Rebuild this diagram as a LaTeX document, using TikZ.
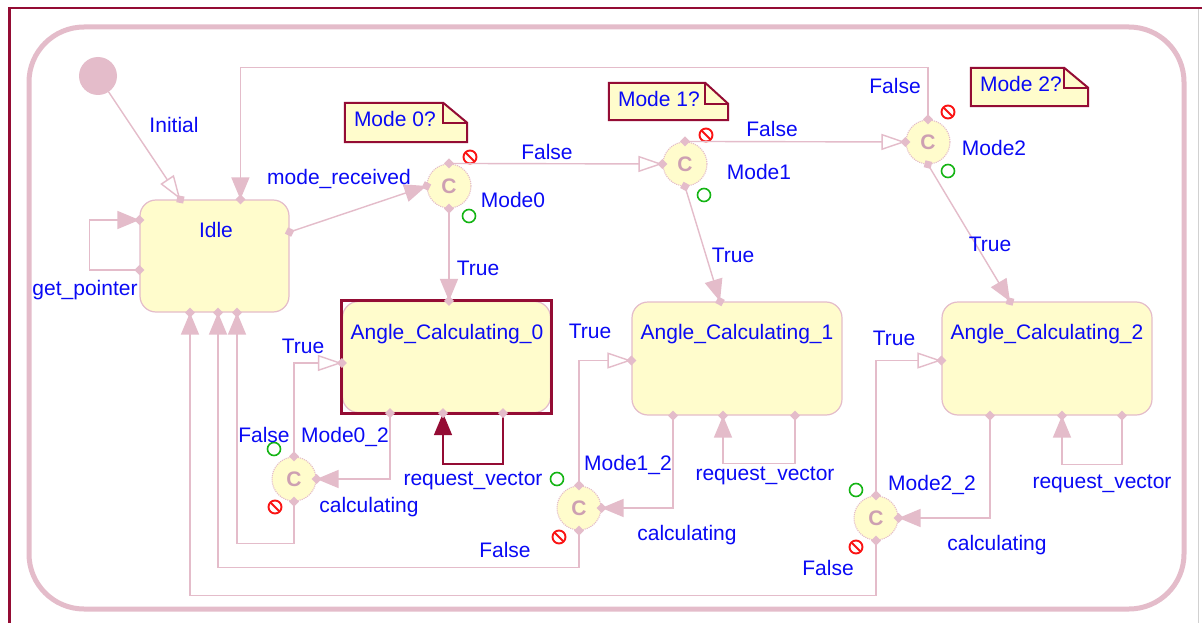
\documentclass[tikz,border=0pt]{standalone}
\usepackage{fontspec}
\setmainfont{Liberation Sans}
\usetikzlibrary{arrows.meta,decorations.markings}

\definecolor{lnk}{RGB}{228,188,202}
\definecolor{cfill}{RGB}{255,252,204}
\definecolor{selred}{RGB}{148,12,52}
\definecolor{lblue}{RGB}{10,10,245}
\definecolor{cglyph}{RGB}{205,160,178}
\definecolor{okgreen}{RGB}{20,180,20}
\definecolor{nored}{RGB}{250,20,20}

% diamond port marker drawn on transition ends
\newcommand\portshape{\fill[lnk] (-5,0) -- (0,5) -- (5,0) -- (0,-5) -- cycle;}
% guard markers beside the choice points
\newcommand\guardno[1]{\draw[nored, line width=1.9pt] #1 circle (6.5pt); \draw[nored, line width=1.9pt] #1 ++(-4.5,-4.5) -- ++(9,9);}
\newcommand\guardok[1]{\draw[okgreen, line width=1.6pt] #1 circle (6.5pt);}
% note card with folded corner: name, centre, width, height, fold w, fold h, text
\newcommand\notecard[7]{%
  \node[minimum width=#3, minimum height=#4, inner sep=0pt] (#1) at #2 {};
  \filldraw[fill=cfill, draw=selred, line width=2pt, line join=miter]
    (#1.north west) -- ([xshift=-#5]#1.north east) -- ([yshift=-#6]#1.north east)
    -- (#1.south east) -- (#1.south west) -- cycle;
  \draw[selred, line width=1.5pt] ([xshift=-#5]#1.north east) |- ([yshift=-#6]#1.north east);
  \node[lbl, anchor=base west] (#1t) at ([xshift=9pt,yshift=-24pt]#1.north west) {#7};
}

\tikzset{
  every node/.style={font=\fontsize{21}{23}\selectfont},
  lbl/.style={text=lblue, inner sep=0pt},
  statebox/.style={draw=lnk, fill=cfill, line width=1.2pt, rounded corners=16pt, inner sep=0pt},
  choice/.style={circle, draw=lnk, densely dotted, fill=cfill, minimum size=44pt, inner sep=0pt,
    line width=1.1pt, text=cglyph, font=\fontsize{21}{21}\selectfont\bfseries},
  trbase/.style={draw=lnk, line width=1.4pt},
  tr/.style={trbase, postaction={decorate, decoration={markings,
      mark=at position 0 with {\portshape}, mark=at position 1 with {\portshape}}}},
  trend/.style={trbase, postaction={decorate, decoration={markings,
      mark=at position 1 with {\portshape}}}},
  fillarrow/.style={-{Triangle[length=22pt,width=18pt]}},
  openarrow/.style={-{Triangle[open,length=24pt,width=16pt,fill=white]}},
}

\begin{document}
\begin{tikzpicture}[x=1pt,y=-1pt]
\useasboundingbox (0,0) rectangle (1202,623);
\fill[white] (0,0) rectangle (1202,623);

% window frame and state machine boundary
\draw[selred, line width=2.8pt] (9.5,630) -- (9.5,8) -- (1210,8);
\draw[black!18, line width=1pt] (1198,9.5) -- (1198,630);
\draw[lnk, line width=5pt, rounded corners=55pt] (29,27) rectangle (1184,609);

% states
\node[circle, fill=lnk, minimum size=38pt, inner sep=0pt] (init) at (98,76) {};
\node[statebox, minimum width=149pt, minimum height=112pt] (idle) at (214.5,256) {};
\node[statebox, minimum width=208pt, minimum height=111pt] (ac0) at (446.5,357) {};
\draw[selred, line width=3pt] (ac0.north west) rectangle (ac0.south east);
\node[statebox, minimum width=210pt, minimum height=113pt] (ac1) at (737,358.5) {};
\node[statebox, minimum width=210pt, minimum height=113pt] (ac2) at (1047,358.5) {};

\node[lbl, anchor=base] (idleT) at (216,237) {Idle};
\node[lbl, anchor=base] (ac0T) at (447,339) {Angle\_Calculating\_0};
\node[lbl, anchor=base] (ac1T) at (737,339) {Angle\_Calculating\_1};
\node[lbl, anchor=base] (ac2T) at (1047,339) {Angle\_Calculating\_2};

% choice points
\node[choice] (m0) at (449,186) {C};
\node[choice] (m1) at (685,164) {C};
\node[choice] (m2) at (928,142) {C};
\node[choice] (m02) at (294,479) {C};
\node[choice] (m12) at (579,508) {C};
\node[choice] (m22) at (876,518) {C};

\guardno{([shift={(21,-29)}]m0.center)}  \guardok{([shift={(20,30)}]m0.center)}
\guardno{([shift={(21,-29)}]m1.center)}  \guardok{([shift={(19,31)}]m1.center)}
\guardno{([shift={(20,-30)}]m2.center)}  \guardok{([shift={(20,29)}]m2.center)}
\guardok{([shift={(-20,-30)}]m02.center)} \guardno{([shift={(-19,28)}]m02.center)}
\guardok{([shift={(-22,-29)}]m12.center)} \guardno{([shift={(-20,29)}]m12.center)}
\guardok{([shift={(-20,-28)}]m22.center)} \guardno{([shift={(-20,29)}]m22.center)}

\node[lbl, anchor=base] (m0L) at (513,207) {Mode0};
\node[lbl, anchor=base] (m1L) at (759,179) {Mode1};
\node[lbl, anchor=base] (m2L) at (994,156) {Mode2};
\node[lbl, anchor=base] (m02L) at (345,442) {Mode0\_2};
\node[lbl, anchor=base] (m12L) at (628,470) {Mode1\_2};
\node[lbl, anchor=base] (m22L) at (932,490) {Mode2\_2};

% notes
\notecard{n0}{(406,122.5)}{122pt}{39pt}{24pt}{20pt}{Mode 0?}
\notecard{n1}{(668.5,101.5)}{119pt}{37pt}{23pt}{21pt}{Mode 1?}
\notecard{n2}{(1029.5,87)}{117pt}{38pt}{24pt}{20pt}{Mode 2?}

% transitions
\draw[trend, openarrow] (init) -- ([xshift=41pt]idle.north west);
\node[lbl, anchor=base] (tInit) at (174,132) {Initial};

\draw[tr, fillarrow] ([yshift=-14pt]idle.west) -- ++(-50,0) |- ([yshift=36pt]idle.west);
\node[lbl, anchor=base] (tGet) at (85,295) {get\_pointer};

\draw[tr, fillarrow] ([yshift=24pt]idle.east) -- (m0.west);
\node[lbl, anchor=base] (tRecv) at (339,184) {mode\_received};

\draw[tr, openarrow] (m0.north) -- (m1.west);
\node[lbl, anchor=base] (tF0) at (547,160) {False};
\draw[tr, openarrow] (m1.north) -- (m2.west);
\node[lbl, anchor=base] (tF1) at (772,137) {False};
\draw[tr, fillarrow] (m2.north) -- ++(0,-52) -| ([xshift=101pt]idle.north west);
\node[lbl, anchor=base] (tF2) at (895,94) {False};

\draw[tr, fillarrow] (m0.south) -- (m0.south |- ac0.north);
\node[lbl, anchor=base] (tT0) at (478,275) {True};
\draw[tr, fillarrow] (m1.south) -- ([xshift=-17pt]ac1.north);
\node[lbl, anchor=base] (tT1) at (733,262) {True};
\draw[tr, fillarrow] (m2.south) -- ([xshift=-37pt]ac2.north);
\node[lbl, anchor=base] (tT2) at (990,251) {True};

% Angle_Calculating_0 loop
\draw[tr, draw=selred, -{Triangle[length=22pt,width=18pt]}] ([xshift=56.5pt]ac0.south) -- ++(0,51) -| ([xshift=-3.5pt]ac0.south);
\node[lbl, anchor=base] (tRq0) at (473,485) {request\_vector};
\draw[tr, fillarrow] ([xshift=-56.5pt]ac0.south) |- (m02.east);
\node[lbl, anchor=base] (tC0) at (369,512) {calculating};
\draw[tr, openarrow] (m02.north) |- ([yshift=-6pt]ac0.west);
\node[lbl, anchor=base] (tT02) at (303,353) {True};
\draw[tr, fillarrow] (m02.south) -- ++(0,42) -| ([xshift=22.5pt]idle.south);
\node[lbl, anchor=base] (tF02) at (264,442) {False};

% Angle_Calculating_1 loop
\draw[tr, fillarrow] ([xshift=58pt]ac1.south) -- ++(0,48) -| ([xshift=-14pt]ac1.south);
\node[lbl, anchor=base] (tRq1) at (765,480) {request\_vector};
\draw[tr, fillarrow] ([xshift=-64pt]ac1.south) |- (m12.east);
\node[lbl, anchor=base] (tC1) at (687,540) {calculating};
\draw[tr, openarrow] (m12.north) |- ([yshift=-2pt]ac1.west);
\node[lbl, anchor=base] (tT12) at (590,338) {True};
\draw[tr, fillarrow] (m12.south) -- ++(0,37) -| ([xshift=3.5pt]idle.south);
\node[lbl, anchor=base] (tF12) at (505,557) {False};

% Angle_Calculating_2 loop
\draw[tr, fillarrow] ([xshift=75pt]ac2.south) -- ++(0,49) -| ([xshift=15pt]ac2.south);
\node[lbl, anchor=base] (tRq2) at (1102,488) {request\_vector};
\draw[tr, fillarrow] ([xshift=-57pt]ac2.south) |- (m22.east);
\node[lbl, anchor=base] (tC2) at (997,550) {calculating};
\draw[tr, openarrow] (m22.north) |- ([yshift=-2pt]ac2.west);
\node[lbl, anchor=base] (tT22) at (894,345) {True};
\draw[tr, fillarrow] (m22.south) -- ++(0,55) -| ([xshift=-24.5pt]idle.south);
\node[lbl, anchor=base] (tF22) at (828,575) {False};
\end{tikzpicture}
\end{document}
